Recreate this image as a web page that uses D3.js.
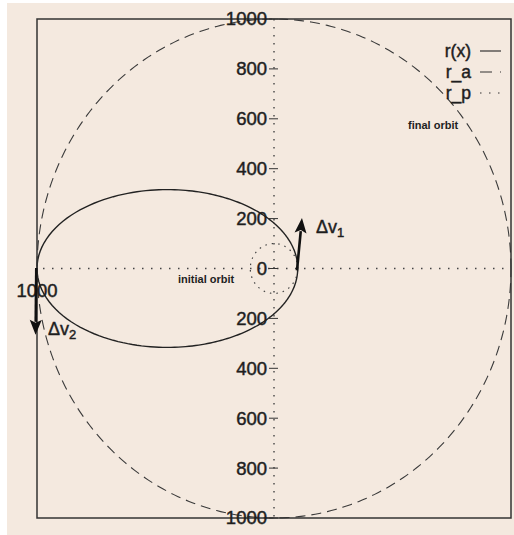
<!DOCTYPE html>
<html>
<head>
<meta charset="utf-8">
<script src="https://cdn.jsdelivr.net/npm/d3@7"></script>
<style>
  html, body { margin: 0; padding: 0; background: #ffffff; }
  svg { display: block; }
  text { font-family: "Liberation Sans", Arial, Helvetica, sans-serif; fill: #1e1e1e; }
  .heavy { stroke: #1e1e1e; stroke-width: 0.45px; }
</style>
</head>
<body>
<div id="chart"></div>
<script>
// Hohmann transfer: orbit radii (periapsis r_p, apoapsis r_a)
const orbitRadii = [100, 1000];
const legendLabels = ["r(x)", "r_a", "r_p"];
const yTickValues = [1000, 800, 600, 400, 200, 0, -200, -400, -600, -800, -1000];
const yTickLabels = ["1000", "800", "600", "400", "200", "0", "200", "400", "600", "800", "1000"];
const xTickValues = [-1000];
const xTickLabels = ["1000"];
// Burns: start point and tip in orbit coordinates
const burnNames = ["v1", "v2"];
const burnStarts = [[97, -8], [-1003, 2]];
const burnTips = [[118, 202], [-1006, -266]];
const orbitNotes = ["initial orbit", "final orbit"];

const W = 514, H = 535;
const svg = d3.select("#chart").append("svg").attr("width", W).attr("height", H);

// paper background
svg.append("rect").attr("x", 0).attr("y", 0).attr("width", W).attr("height", H).attr("fill", "#ffffff");
svg.append("rect").attr("x", 7).attr("y", 3).attr("width", W - 7).attr("height", H - 3).attr("fill", "#f4e9df");

const x = d3.scaleLinear().domain([-1000, 1000]).range([37, 511]);
const y = d3.scaleLinear().domain([-1000, 1000]).range([518, 19]);

const [rp, ra] = orbitRadii;

// dotted coordinate axes through the origin
svg.append("line")
  .attr("x1", x(0)).attr("x2", x(0)).attr("y1", y(1000)).attr("y2", y(-1000))
  .attr("stroke", "#444").attr("stroke-width", 1.4).attr("stroke-dasharray", "1.5,6.5");
svg.append("line")
  .attr("x1", x(-1000) + 6).attr("x2", x(1000)).attr("y1", y(0)).attr("y2", y(0))
  .attr("stroke", "#444").attr("stroke-width", 1.4).attr("stroke-dasharray", "1.5,7.5");

const line = d3.line().x(d => x(d[0])).y(d => y(d[1]));
const circlePts = r => d3.range(0, 361, 1).map(t => {
  const a = t * Math.PI / 180;
  return [r * Math.cos(a), r * Math.sin(a)];
});

// final orbit r_a (dashed)
svg.append("path").attr("d", line(circlePts(ra)))
  .attr("fill", "none").attr("stroke", "#3a3a3a").attr("stroke-width", 1.1)
  .attr("stroke-dasharray", "10,6");

// periapsis circle r_p (dotted)
svg.append("path").attr("d", line(circlePts(rp)))
  .attr("fill", "none").attr("stroke", "#444").attr("stroke-width", 1.2)
  .attr("stroke-dasharray", "1.5,5");

// transfer ellipse r(x), focus at origin
const a = (rp + ra) / 2, e = (ra - rp) / (ra + rp);
const ellipsePts = d3.range(0, 361, 1).map(t => {
  const th = t * Math.PI / 180;
  const r = a * (1 - e * e) / (1 + e * Math.cos(th));
  return [r * Math.cos(th), r * Math.sin(th)];
});
svg.append("path").attr("d", line(ellipsePts))
  .attr("fill", "none").attr("stroke", "#222").attr("stroke-width", 1.4);

// frame
svg.append("rect")
  .attr("x", x(-1000)).attr("y", y(1000))
  .attr("width", x(1000) - x(-1000)).attr("height", y(-1000) - y(1000))
  .attr("fill", "none").attr("stroke", "#333").attr("stroke-width", 1.5);

// y axis ticks and labels on the vertical axis
const ticks = svg.append("g");
yTickValues.forEach((v, i) => {
  ticks.append("line")
    .attr("x1", x(0) - 5).attr("x2", x(0) + 4).attr("y1", y(v)).attr("y2", y(v))
    .attr("stroke", "#333").attr("stroke-width", 1);
  ticks.append("text").attr("class", "heavy")
    .attr("x", x(0) - 7).attr("y", y(v)).attr("dy", "0.35em")
    .attr("text-anchor", "end").attr("font-size", 18.5)
    .text(yTickLabels[i]);
});
// x axis label at the far left
xTickValues.forEach((v, i) => {
  ticks.append("text").attr("class", "heavy")
    .attr("x", x(v)).attr("y", y(0) + 22).attr("dy", "0.35em")
    .attr("text-anchor", "middle").attr("font-size", 18.5)
    .text(xTickLabels[i]);
});

// velocity change arrows
burnNames.forEach((name, i) => {
  const s = [x(burnStarts[i][0]), y(burnStarts[i][1])];
  const t = [x(burnTips[i][0]), y(burnTips[i][1])];
  const dx = t[0] - s[0], dy = t[1] - s[1];
  const len = Math.hypot(dx, dy), ux = dx / len, uy = dy / len;
  const headLen = 15, headHalf = 6;
  const bx = t[0] - ux * headLen, by = t[1] - uy * headLen;
  svg.append("line")
    .attr("x1", s[0]).attr("y1", s[1]).attr("x2", bx + ux * 2).attr("y2", by + uy * 2)
    .attr("stroke", "#111").attr("stroke-width", 2.6);
  svg.append("path")
    .attr("d", `M${t[0]},${t[1]} L${bx - uy * headHalf},${by + ux * headHalf} L${bx + ux * 3},${by + uy * 3} L${bx + uy * headHalf},${by - ux * headHalf} Z`)
    .attr("fill", "#111");
});

// arrow labels
const burnLabelPos = [[316, 233], [48, 335]];
burnNames.forEach((name, i) => {
  const tx = svg.append("text").attr("class", "heavy")
    .attr("x", burnLabelPos[i][0]).attr("y", burnLabelPos[i][1])
    .attr("font-size", 18);
  tx.append("tspan").text("\u0394v");
  tx.append("tspan").attr("font-size", 13).attr("dy", 4).text(name.slice(1));
});

// orbit annotations
const notePos = [[178, 283], [408, 129]];
orbitNotes.forEach((n, i) => {
  svg.append("text")
    .attr("x", notePos[i][0]).attr("y", notePos[i][1])
    .attr("font-size", 11).attr("font-weight", "bold")
    .text(n);
});

// legend
const legendDash = [null, "12,8", "1.5,7.5"];
const legendY = [52, 73, 94];
legendLabels.forEach((lab, i) => {
  svg.append("text").attr("class", "heavy")
    .attr("x", 471).attr("y", legendY[i]).attr("dy", "0.3em")
    .attr("text-anchor", "end").attr("font-size", 17.5)
    .text(lab);
  svg.append("line")
    .attr("x1", 480).attr("x2", 501).attr("y1", legendY[i] - 1).attr("y2", legendY[i] - 1)
    .attr("stroke", "#333").attr("stroke-width", 1.2)
    .attr("stroke-dasharray", legendDash[i]);
});
</script>
</body>
</html>
